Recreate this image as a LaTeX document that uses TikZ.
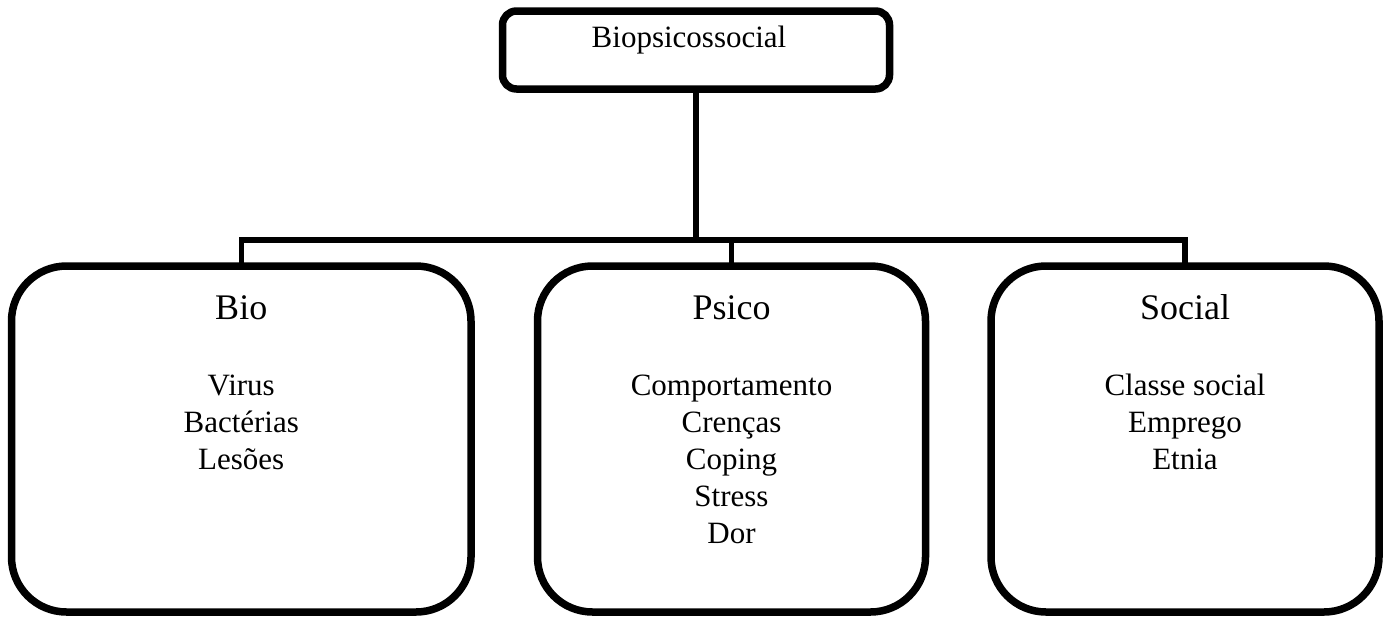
\documentclass[tikz,border=0pt]{standalone}
\usepackage{fontspec}
\setmainfont{Liberation Serif}
\begin{document}
\begin{tikzpicture}[x=1pt,y=-1pt,
  bigbox/.style={draw=black, line width=7.5pt, rounded corners=55pt, outer sep=0pt, inner sep=0pt, minimum width=388pt, minimum height=346pt},
  topbox/.style={draw=black, line width=7.5pt, rounded corners=14pt, outer sep=0pt, inner sep=0pt, minimum width=387pt, minimum height=78pt},
  link/.style={draw=black, line width=5.5pt, line join=miter},
  title/.style={inner sep=0pt, anchor=base, font=\fontsize{36}{43}\selectfont},
  items/.style={inner sep=0pt, anchor=base, align=center, font=\fontsize{31}{37}\selectfont}]
\useasboundingbox (0,0) rectangle (1388,616);
\node[topbox] (top) at (696,50) {};
\node[bigbox, minimum width=459.5pt] (bio) at (241.25,439) {};
\node[bigbox] (psico) at (731.5,439) {};
\node[bigbox] (social) at (1185,439) {};
\node[inner sep=0pt, anchor=base, font=\fontsize{31}{37}\selectfont] (toptxt) at (689,47) {Biopsicossocial};
\node[title] (biot) at (241.25,319) {Bio};
\node[title] (psicot) at (731.5,319) {Psico};
\node[title] (socialt) at (1185,319) {Social};
\node[items] (bioi) at (241.25,469) {Virus\\Bactérias\\Lesões};
\node[items] (psicoi) at (731.5,543) {Comportamento\\Crenças\\Coping\\Stress\\Dor};
\node[items] (sociali) at (1185,469) {Classe social\\Emprego\\Etnia};
\coordinate (hub) at (696,240);
\draw[link] (top.south) -- (hub);
\draw[link] (bio.north) -- (bio.north |- hub) -- (social.north |- hub) -- (social.north);
\draw[link] (psico.north) -- (psico.north |- hub);
\end{tikzpicture}
\end{document}
